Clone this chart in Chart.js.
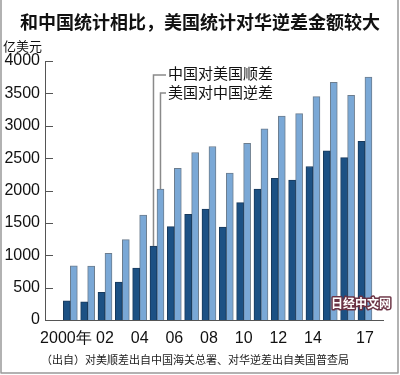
<!DOCTYPE html>
<html>
<head>
<meta charset="utf-8">
<script src="https://cdn.jsdelivr.net/npm/chart.js@4"></script>
<style>
  body { margin: 0; background: #fff; }
  #wrap { width: 400px; height: 375px; }
</style>
</head>
<body>
<div id="wrap"><canvas id="tradeChart" width="400" height="375"></canvas></div>
<script>
// 数据（亿美元）
const years = [2000, 2001, 2002, 2003, 2004, 2005, 2006, 2007, 2008, 2009, 2010, 2011, 2012, 2013, 2014, 2015, 2016, 2017];
const chinaSurplus = [297, 281, 427, 586, 802, 1142, 1443, 1633, 1713, 1434, 1813, 2023, 2189, 2160, 2370, 2614, 2507, 2758];
const usDeficit = [838, 831, 1031, 1241, 1620, 2023, 2343, 2587, 2680, 2268, 2730, 2951, 3151, 3187, 3449, 3672, 3470, 3752];
const yearLabels = { 0: "2000年  ", 2: "02", 4: "04", 6: "06", 8: "08", 10: "10", 12: "12", 14: "14", 17: "17" };
const seriesNames = ["中国对美国顺差", "美国对中国逆差"];
const yTicks = [0, 500, 1000, 1500, 2000, 2500, 3000, 3500, 4000];

const narrow = "'Liberation Sans Narrow', 'Arial Narrow', 'Liberation Sans', sans-serif";
const cjk = "'Noto Sans CJK SC', 'Noto Sans', sans-serif";

// 标题、注释、出处等
const extras = {
  id: "extras",
  beforeDraw(chart) {
    const c = chart.ctx;
    c.save();
    c.fillStyle = "#fff";
    c.fillRect(0, 0, chart.width, chart.height);
    c.restore();
  },
  afterDraw(chart) {
    const c = chart.ctx;
    const x = chart.scales.x;
    const y = chart.scales.y;
    c.save();

    // y轴内侧刻度
    c.strokeStyle = "#555";
    c.lineWidth = 1;
    yTicks.forEach((v) => {
      const py = Math.round(y.getPixelForValue(v)) + 0.5;
      c.beginPath();
      c.moveTo(x.left, py);
      c.lineTo(x.left + 8, py);
      c.stroke();
    });

    // 标题
    c.fillStyle = "#111";
    c.textAlign = "center";
    c.textBaseline = "middle";
    c.font = "bold 18px " + cjk;
    c.fillText("和中国统计相比，美国统计对华逆差金额较大", 200, 22);

    c.textAlign = "left";
    c.font = "13px " + cjk;
    c.fillText("亿美元", 3, 46);

    // 引线 + 图例文字
    const i = 5;
    const cx = x.getPixelForValue(i);
    const leaders = [
      { px: cx - 3.5, top: y.getPixelForValue(chinaSurplus[i]), ly: 75, ty: 73 },
      { px: cx + 3.5, top: y.getPixelForValue(usDeficit[i]), ly: 93, ty: 92 },
    ];
    c.strokeStyle = "#8a8a8a";
    c.lineWidth = 1.5;
    leaders.forEach((l, k) => {
      c.beginPath();
      c.moveTo(l.px, l.top);
      c.lineTo(l.px, l.ly);
      c.lineTo(166, l.ly);
      c.stroke();
      c.fillStyle = "#111";
      c.font = "15px " + cjk;
      c.fillText(seriesNames[k], 168, l.ty);
    });

    // 出处
    c.font = "11px " + cjk;
    c.fillStyle = "#222";
    c.fillText("（出自）对美顺差出自中国海关总署、对华逆差出自美国普查局", 41, 360);

    // 水印
    c.font = "bold 12px " + cjk;
    c.lineJoin = "round";
    c.lineWidth = 3;
    c.strokeStyle = "#6b3344";
    c.strokeText("日经中文网", 331, 303);
    c.fillStyle = "#fff";
    c.fillText("日经中文网", 331, 303);

    // 外框
    c.strokeStyle = "#999";
    c.lineWidth = 1.5;
    c.beginPath();
    c.moveTo(1, 0);
    c.lineTo(1, 373);
    c.lineTo(398, 373);
    c.lineTo(398, 0);
    c.stroke();

    c.restore();
  },
};

new Chart(document.getElementById("tradeChart"), {
  type: "bar",
  data: {
    datasets: [
      {
        label: seriesNames[0],
        data: years.map((yr, k) => ({ x: k, y: chinaSurplus[k] })),
        backgroundColor: "#1c5184",
        borderColor: "#183a5c",
        borderWidth: 1,
        barThickness: 7,
      },
      {
        label: seriesNames[1],
        data: years.map((yr, k) => ({ x: k, y: usDeficit[k] })),
        backgroundColor: "#7aa8d6",
        borderColor: "#6c7d8e",
        borderWidth: 1,
        barThickness: 7,
      },
    ],
  },
  options: {
    responsive: false,
    animation: false,
    events: [],
    layout: { padding: { left: 0, top: 61, right: 17, bottom: 0 } },
    plugins: { legend: { display: false }, tooltip: { enabled: false } },
    scales: {
      x: {
        type: "linear",
        min: -0.92,
        max: 17.5,
        afterFit(s) { s.height = 55; },
        grid: { display: false, drawTicks: false },
        border: { display: true, color: "#555", width: 1 },
        ticks: {
          stepSize: 1,
          includeBounds: false,
          autoSkip: false,
          maxRotation: 0,
          padding: 9,
          color: "#111",
          font: { family: narrow, size: 16 },
          callback: (v) => yearLabels[v] || "",
        },
      },
      y: {
        min: 0,
        max: 4000,
        afterFit(s) { s.width = 45; },
        grid: { display: false, drawTicks: false },
        border: { display: true, color: "#555", width: 1 },
        ticks: {
          stepSize: 500,
          padding: 5,
          color: "#111",
          font: { family: narrow, size: 16 },
          callback: (v) => String(v),
        },
      },
    },
  },
  plugins: [extras],
});
</script>
</body>
</html>
